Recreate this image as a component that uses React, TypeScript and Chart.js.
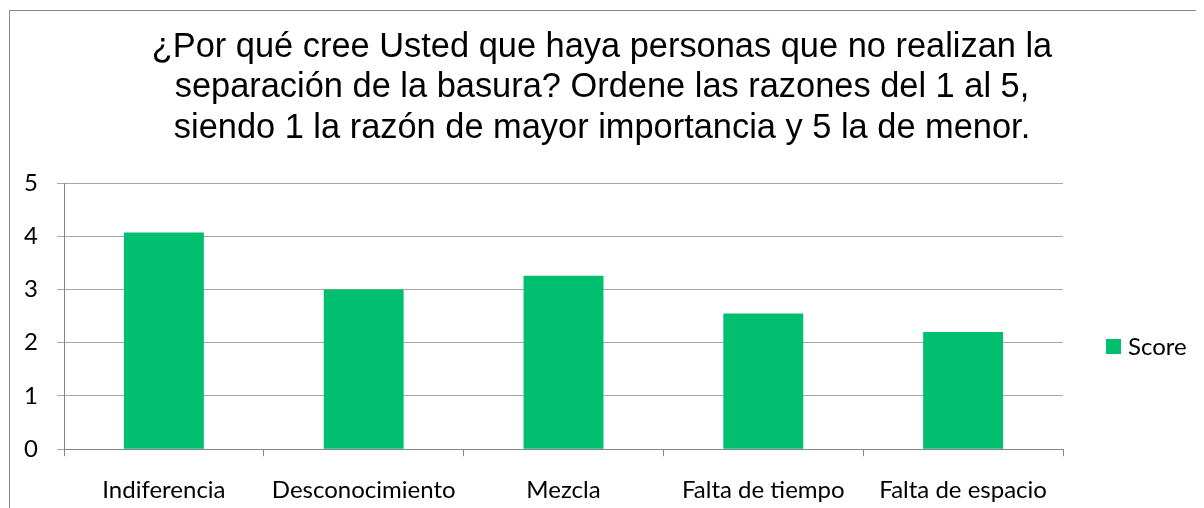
import React, { useEffect, useRef } from "react";
import { Chart, registerables } from "chart.js";

Chart.register(...registerables);

const categories = ["Indiferencia", "Desconocimiento", "Mezcla", "Falta de tiempo", "Falta de espacio"];
const scores = [4.07, 3.0, 3.26, 2.55, 2.2];
const seriesName = "Score";
const titleLines = [
  "¿Por qué cree Usted que haya personas que no realizan la",
  "separación de la basura? Ordene las razones del 1 al 5,",
  "siendo 1 la razón de mayor importancia y 5 la de menor.",
];
const yMin = 0;
const yMax = 5;

const GREEN = "#00BF6F";
const LABEL_FONT = "Lato, 'Open Sans', sans-serif";

export default function App() {
  const ref = useRef<HTMLCanvasElement | null>(null);

  useEffect(() => {
    if (!ref.current) return;
    const chart = new Chart(ref.current, {
      type: "bar",
      data: {
        labels: categories,
        datasets: [
          {
            label: seriesName,
            data: scores,
            backgroundColor: GREEN,
            borderWidth: 0,
            barPercentage: 0.4,
            categoryPercentage: 1,
          },
        ],
      },
      options: {
        animation: false,
        responsive: false,
        devicePixelRatio: 1,
        layout: { padding: { left: 0, right: 0, top: 0, bottom: 4 } },
        plugins: {
          legend: { display: false },
          tooltip: { enabled: false },
          title: {
            display: true,
            text: titleLines,
            color: "#000",
            font: { family: "'Liberation Sans', Arial, sans-serif", size: 34.4, weight: "normal", lineHeight: 1.163 },
            padding: { top: 17, bottom: 35 },
          },
        },
        scales: {
          x: {
            grid: {
              offset: true,
              drawOnChartArea: false,
              drawTicks: true,
              tickLength: 7,
              color: "#868686",
              tickColor: "#868686",
            },
            border: { color: "#868686", width: 1 },
            ticks: {
              color: "#000",
              font: { family: LABEL_FONT, size: 24 },
              padding: 20,
              maxRotation: 0,
              autoSkip: false,
            },
          },
          y: {
            min: yMin,
            max: yMax,
            afterFit: (scale: any) => {
              scale.width = 54;
            },
            grid: {
              color: "#A6A6A6",
              tickColor: "#A6A6A6",
              tickLength: 7,
            },
            border: { color: "#868686", width: 1 },
            ticks: {
              stepSize: 1,
              color: "#000",
              font: { family: LABEL_FONT, size: 24 },
              padding: 19,
            },
          },
          legendSpace: {
            type: "linear",
            position: "right",
            display: true,
            min: yMin,
            max: yMax,
            afterFit: (scale: any) => {
              scale.width = 131;
            },
            grid: { display: false, drawTicks: false },
            border: { display: false },
            ticks: { display: false },
          },
        },
      },
    });
    return () => chart.destroy();
  }, []);

  return (
    <div
      style={{
        position: "relative",
        marginLeft: 1,
        marginTop: 2,
        width: 1194,
        height: 518,
        border: "1px solid #888",
        background: "#fff",
      }}
    >
      <canvas ref={ref} width={1184} height={518} style={{ display: "block" }} />
      <div
        style={{
          position: "absolute",
          left: 1096,
          top: 320,
          height: 30,
          lineHeight: "30px",
          display: "flex",
          alignItems: "center",
          fontFamily: LABEL_FONT,
          fontSize: 24,
          color: "#000",
        }}
      >
        <span style={{ display: "inline-block", width: 15, height: 15, background: GREEN, marginRight: 7 }} />
        <span>{seriesName}</span>
      </div>
    </div>
  );
}
